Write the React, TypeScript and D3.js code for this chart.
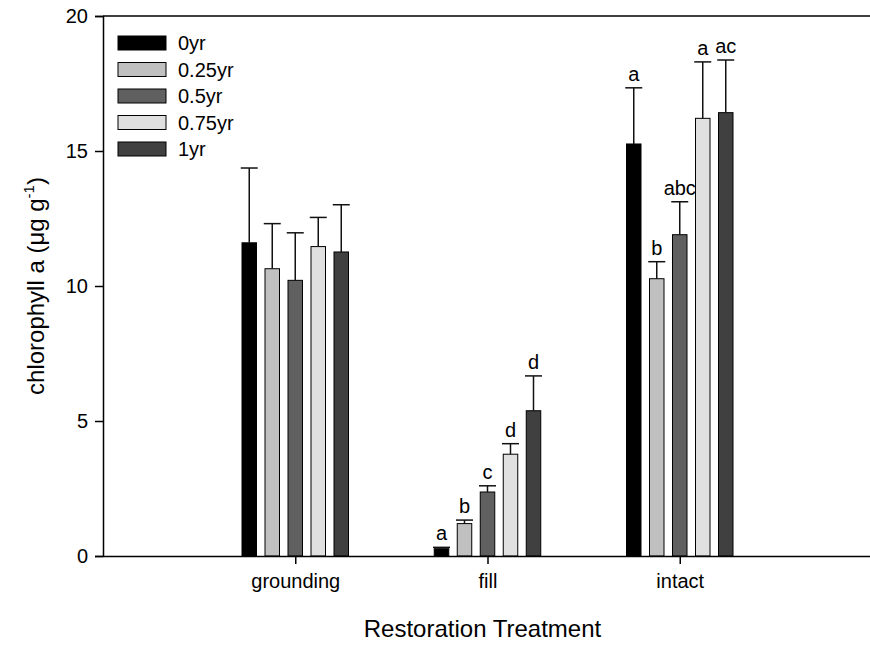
import { useEffect, useRef } from 'react';
import * as d3 from "d3";

const treatments = ['grounding', 'fill', 'intact'];
const ages = ['0yr', '0.25yr', '0.5yr', '0.75yr', '1yr'];
const fills = ['#000000', '#c0c0c0', '#606060', '#e0e0e0', '#404040'];

// means per treatment, one per age
const groundingMeans = [11.6, 10.64, 10.21, 11.46, 11.26];
const fillMeans = [0.27, 1.2, 2.37, 3.77, 5.38];
const intactMeans = [15.26, 10.27, 11.9, 16.21, 16.42];

// standard errors (upper bar only)
const groundingErr = [2.77, 1.67, 1.76, 1.08, 1.75];
const fillErr = [0.05, 0.13, 0.23, 0.39, 1.29];
const intactErr = [2.08, 0.63, 1.22, 2.09, 1.95];

// significance letters
const groundingLetters = ['', '', '', '', ''];
const fillLetters = ['a', 'b', 'c', 'd', 'd'];
const intactLetters = ['a', 'b', 'abc', 'a', 'ac'];

const yTicks = [0, 5, 10, 15, 20];

const FONT = '"Liberation Sans", Arial, sans-serif';

interface Bar {
  treatment: string,
  tIndex: number,
  aIndex: number,
  mean: number,
  err: number,
  letter: string,
}

function buildBars(): Bar[] {
  const means = [groundingMeans, fillMeans, intactMeans];
  const errs = [groundingErr, fillErr, intactErr];
  const letters = [groundingLetters, fillLetters, intactLetters];
  const bars: Bar[] = [];
  treatments.forEach((t, ti) => {
    ages.forEach((_, ai) => {
      bars.push({
        treatment: t,
        tIndex: ti,
        aIndex: ai,
        mean: means[ti][ai],
        err: errs[ti][ai],
        letter: letters[ti][ai],
      });
    });
  });
  return bars;
}

export default function App() {
  const ref = useRef<SVGSVGElement>(null);
  useEffect(() => draw(ref.current!), []);
  return <svg ref={ref} width={870} height={649}
    style={{ position: 'absolute', left: 0, top: 0, background: 'white' }} />
}

const draw = (node: SVGSVGElement) => {
  const svg = d3.select(node);
  svg.selectAll('*').remove();

  const left = 103, top = 16, bottom = 556, right = 872;
  const x = d3.scaleLinear().domain([0, 4]).range([left, right]);
  const y = d3.scaleLinear().domain([0, 20]).range([bottom, top]);
  const pitch = 23;
  const barW = 14.5;
  const off = (i: number) => (i - 2) * pitch;

  const bars = buildBars();

  const g = svg.append('g');

  // bars
  g.selectAll('rect.bar')
    .data(bars)
    .enter()
    .append('rect')
    .attr('class', 'bar')
    .attr('x', d => x(d.tIndex + 1) + off(d.aIndex) - barW / 2)
    .attr('y', d => y(d.mean))
    .attr('width', barW)
    .attr('height', d => y(0) - y(d.mean))
    .attr('fill', d => fills[d.aIndex])
    .attr('stroke', '#000')
    .attr('stroke-width', 1);

  // error bars
  const eb = g.selectAll('g.err')
    .data(bars)
    .enter()
    .append('g')
    .attr('class', 'err')
    .attr('stroke', '#111')
    .attr('stroke-width', 1.5);
  eb.append('line')
    .attr('x1', d => x(d.tIndex + 1) + off(d.aIndex))
    .attr('x2', d => x(d.tIndex + 1) + off(d.aIndex))
    .attr('y1', d => y(d.mean))
    .attr('y2', d => y(d.mean + d.err));
  eb.append('line')
    .attr('x1', d => x(d.tIndex + 1) + off(d.aIndex) - 8.5)
    .attr('x2', d => x(d.tIndex + 1) + off(d.aIndex) + 8.5)
    .attr('y1', d => y(d.mean + d.err))
    .attr('y2', d => y(d.mean + d.err));

  // letters
  g.selectAll('text.letter')
    .data(bars.filter(d => d.letter))
    .enter()
    .append('text')
    .attr('class', 'letter')
    .attr('x', d => x(d.tIndex + 1) + off(d.aIndex))
    .attr('y', d => y(d.mean + d.err) - 7)
    .attr('text-anchor', 'middle')
    .attr('font-family', FONT)
    .attr('font-size', 20)
    .text(d => d.letter);

  // frame top line
  g.append('line')
    .attr('x1', left).attr('x2', 870)
    .attr('y1', top).attr('y2', top)
    .attr('stroke', '#000').attr('stroke-width', 1.5);

  // y axis
  const yAxis = g.append('g')
    .attr('transform', `translate(${left},0)`)
    .call(d3.axisLeft(y).tickValues(yTicks).tickSize(8).tickPadding(7).tickFormat(d3.format('d')));
  yAxis.select('.domain').attr('stroke-width', 1.5);
  yAxis.selectAll('.tick line').attr('stroke-width', 1.5);
  yAxis.selectAll('text').attr('font-family', FONT).attr('font-size', 20).attr('fill', '#000');

  // x axis
  const xAxis = g.append('g')
    .attr('transform', `translate(0,${bottom})`)
    .call(d3.axisBottom(x).tickValues([1, 2, 3]).tickSize(8).tickPadding(10)
      .tickFormat(d => treatments[(d as number) - 1]).tickSizeOuter(0));
  xAxis.select('.domain').attr('stroke-width', 1.5);
  xAxis.selectAll('.tick line').attr('stroke-width', 1.5);
  xAxis.selectAll('text').attr('font-family', FONT).attr('font-size', 20).attr('fill', '#000');

  // axis titles
  svg.append('text')
    .attr('x', (left + 862) / 2)
    .attr('y', 637)
    .attr('text-anchor', 'middle')
    .attr('font-family', FONT)
    .attr('font-size', 24)
    .text('Restoration Treatment');

  const yt = svg.append('text')
    .attr('transform', `translate(44,${(top + bottom) / 2}) rotate(-90)`)
    .attr('text-anchor', 'middle')
    .attr('font-family', FONT)
    .attr('font-size', 24);
  yt.append('tspan').text('chlorophyll a (μg g');
  yt.append('tspan').attr('font-size', 15).attr('dy', -10).text('-1');
  yt.append('tspan').attr('dy', 10).text(')');

  // legend
  const legend = svg.append('g');
  const rowY = (i: number) => 43 + i * 26.5;
  legend.selectAll('rect')
    .data(ages)
    .enter()
    .append('rect')
    .attr('x', 118)
    .attr('y', (_, i) => rowY(i) - 7)
    .attr('width', 48)
    .attr('height', 14)
    .attr('fill', (_, i) => fills[i])
    .attr('stroke', '#000')
    .attr('stroke-width', 1);
  legend.selectAll('text')
    .data(ages)
    .enter()
    .append('text')
    .attr('x', 178)
    .attr('y', (_, i) => rowY(i) + 7)
    .attr('font-family', FONT)
    .attr('font-size', 20)
    .text(d => d);
}
